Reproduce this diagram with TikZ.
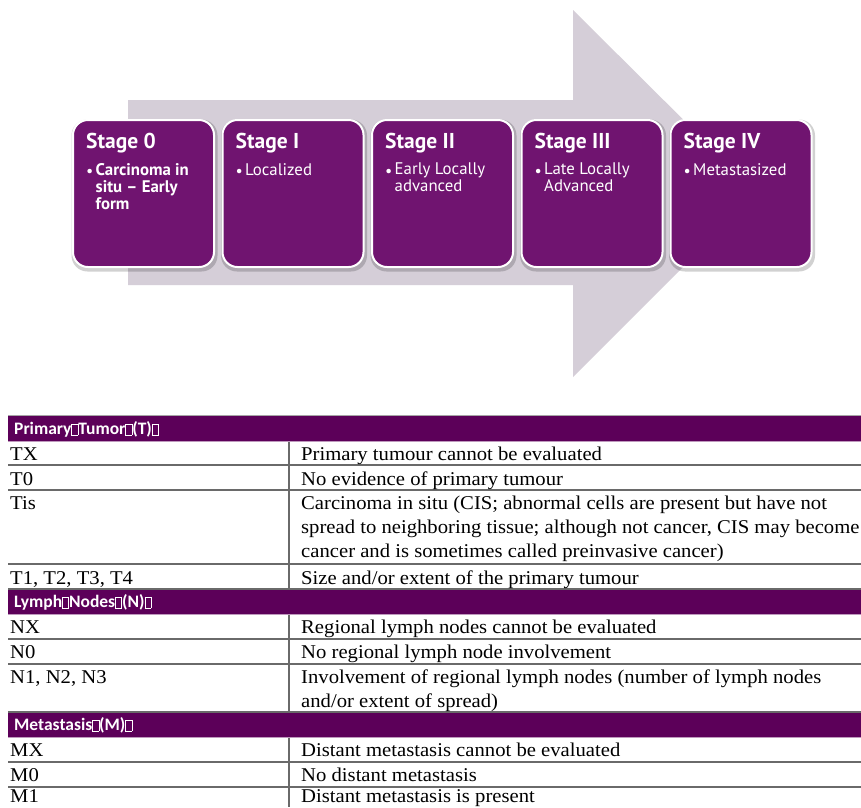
\documentclass[tikz,border=0pt]{standalone}
\usepackage{fontspec}
\setmainfont{Liberation Serif}
\newfontfamily\cellfont[FakeStretch=1.06]{Liberation Serif}
\newfontfamily\boxfont[Ligatures=TeX]{PT Sans}
\newfontfamily\hdrfont{Carlito}
\definecolor{arrowgray}{HTML}{D5CED8}
\definecolor{stagepurple}{HTML}{701470}
\definecolor{hdrpurple}{HTML}{5C0059}
\definecolor{rulegray}{HTML}{6A6A6A}
\newcommand{\missglyph}{\begingroup\setlength{\fboxsep}{0pt}\setlength{\fboxrule}{0.7pt}\fcolorbox{white}{hdrpurple}{\rule{0pt}{10pt}\hspace{5.5pt}}\endgroup}
\begin{document}
\begin{tikzpicture}[x=1pt,y=-1pt,
  stagebox/.style={draw=white, line width=2pt, fill=stagepurple, rounded corners=15pt,
    minimum width=141pt, minimum height=147pt, inner sep=0pt},
  stageshadow/.style={fill=black, opacity=0.18, rounded corners=16pt,
    minimum width=146pt, minimum height=152pt, inner sep=0pt},
  stagetitle/.style={font=\boxfont\bfseries\fontsize{21.5}{24}\selectfont, text=white, anchor=base west, inner sep=0pt},
  stagebullet/.style={font=\boxfont\fontsize{16}{17}\selectfont, text=white, anchor=base west, inner sep=0pt},
  stagebody/.style={font=\boxfont\fontsize{16.8}{17}\selectfont, text=white, anchor=north west, align=left, inner sep=0pt},
  hdrtext/.style={font=\hdrfont\bfseries\fontsize{17.5}{19}\selectfont, text=white, anchor=base west, inner sep=0pt},
  celltext/.style={font=\cellfont\fontsize{19.5}{24}\selectfont, anchor=base west, inner sep=0pt},
  rowrule/.style={draw=rulegray, line width=1.3pt},
  colrule/.style={draw=rulegray, line width=1.1pt}
]
\useasboundingbox (0,0) rectangle (861,807);
\fill[white] (0,0) rectangle (861,807);

% big arrow
\fill[arrowgray] (128,100) -- (573,100) -- (573,10) -- (757,193) -- (573,377) -- (573,285) -- (128,285) -- cycle;

% stage boxes
\foreach \i/\cx in {0/143.5,1/293,2/442.5,3/592,4/741}{
  \node[stageshadow] at (\cx+1,195.5) {};
  \node[stagebox] (s\i) at (\cx,193.5) {};
}
\node[stagetitle] (t0) at ([xshift=14pt,yshift=-29pt]s0.north west) {Stage 0};
\node[stagetitle] (t1) at ([xshift=14pt,yshift=-29pt]s1.north west) {Stage I};
\node[stagetitle] (t2) at ([xshift=14pt,yshift=-29pt]s2.north west) {Stage II};
\node[stagetitle] (t3) at ([xshift=14pt,yshift=-29pt]s3.north west) {Stage III};
\node[stagetitle] (t4) at ([xshift=14pt,yshift=-29pt]s4.north west) {Stage IV};
\foreach \i in {0,...,4}{
  \node[stagebullet] (b\i) at ([xshift=14pt,yshift=-57pt]s\i.north west) {\textbullet};
}
\node[stagebody, font=\boxfont\bfseries\fontsize{16.8}{17}\selectfont] (d0) at ([xshift=23.5pt,yshift=-44pt]s0.north west) {Carcinoma in\\situ – Early\\form};
\node[stagebody] (d1) at ([xshift=23.5pt,yshift=-44pt]s1.north west) {Localized};
\node[stagebody] (d2) at ([xshift=23.5pt,yshift=-44pt]s2.north west) {Early Locally\\advanced};
\node[stagebody] (d3) at ([xshift=23.5pt,yshift=-44pt]s3.north west) {Late Locally\\Advanced};
\node[stagebody] (d4) at ([xshift=23.5pt,yshift=-44pt]s4.north west) {Metastasized};

% table
\fill[hdrpurple] (8,416) rectangle (861,441);
\fill[hdrpurple] (8,589) rectangle (861,614);
\fill[hdrpurple] (8,712) rectangle (861,737);
\draw[draw=gray!70, line width=0.8pt] (8,415.5) -- (861,415.5);
\foreach \y in {465,490,564,589,639,664,712,762,787}{
  \draw[rowrule] (8,\y) -- (861,\y);
}
\draw[draw=hdrpurple!40, line width=0.8pt] (8,441.5) -- (861,441.5);
\draw[draw=hdrpurple!40, line width=0.8pt] (8,614.5) -- (861,614.5);
\draw[draw=hdrpurple!40, line width=0.8pt] (8,737.5) -- (861,737.5);
\draw[colrule] (289,442) -- (289,589);
\draw[colrule] (289,615) -- (289,712);
\draw[colrule] (289,738) -- (289,807);

\node[hdrtext] (h1) at (14,434.5) {Primary\missglyph Tumor\missglyph(T)\missglyph};
\node[hdrtext] (h2) at (14,607.5) {Lymph\missglyph Nodes\missglyph(N)\missglyph};
\node[hdrtext] (h3) at (14,730.5) {Metastasis\missglyph(M)\missglyph};

\node[celltext] (tx) at (10,460) {TX};
\node[celltext] (tx2) at (301,460) {Primary tumour cannot be evaluated};
\node[celltext] (t0c) at (10,485) {T0};
\node[celltext] (t0d) at (301,485) {No evidence of primary tumour};
\node[celltext] (tis) at (10,509) {Tis};
\node[celltext] (tisa) at (301,509) {Carcinoma in situ (CIS; abnormal cells are present but have not};
\node[celltext] (tisb) at (301,533) {spread to neighboring tissue; although not cancer, CIS may become};
\node[celltext] (tisc) at (301,557) {cancer and is sometimes called preinvasive cancer)};
\node[celltext] (tn) at (10,584) {T1, T2, T3, T4};
\node[celltext] (tnd) at (301,584) {Size and/or extent of the primary tumour};
\node[celltext] (nx) at (10,633) {NX};
\node[celltext] (nxd) at (301,633) {Regional lymph nodes cannot be evaluated};
\node[celltext] (n0) at (10,658) {N0};
\node[celltext] (n0d) at (301,658) {No regional lymph node involvement};
\node[celltext] (nn) at (10,683) {N1, N2, N3};
\node[celltext] (nna) at (301,683) {Involvement of regional lymph nodes (number of lymph nodes};
\node[celltext] (nnb) at (301,707) {and/or extent of spread)};
\node[celltext] (mx) at (10,756) {MX};
\node[celltext] (mxd) at (301,756) {Distant metastasis cannot be evaluated};
\node[celltext] (m0) at (10,781) {M0};
\node[celltext] (m0d) at (301,781) {No distant metastasis};
\node[celltext] (m1) at (10,802) {M1};
\node[celltext] (m1d) at (301,802) {Distant metastasis is present};
\end{tikzpicture}
\end{document}
